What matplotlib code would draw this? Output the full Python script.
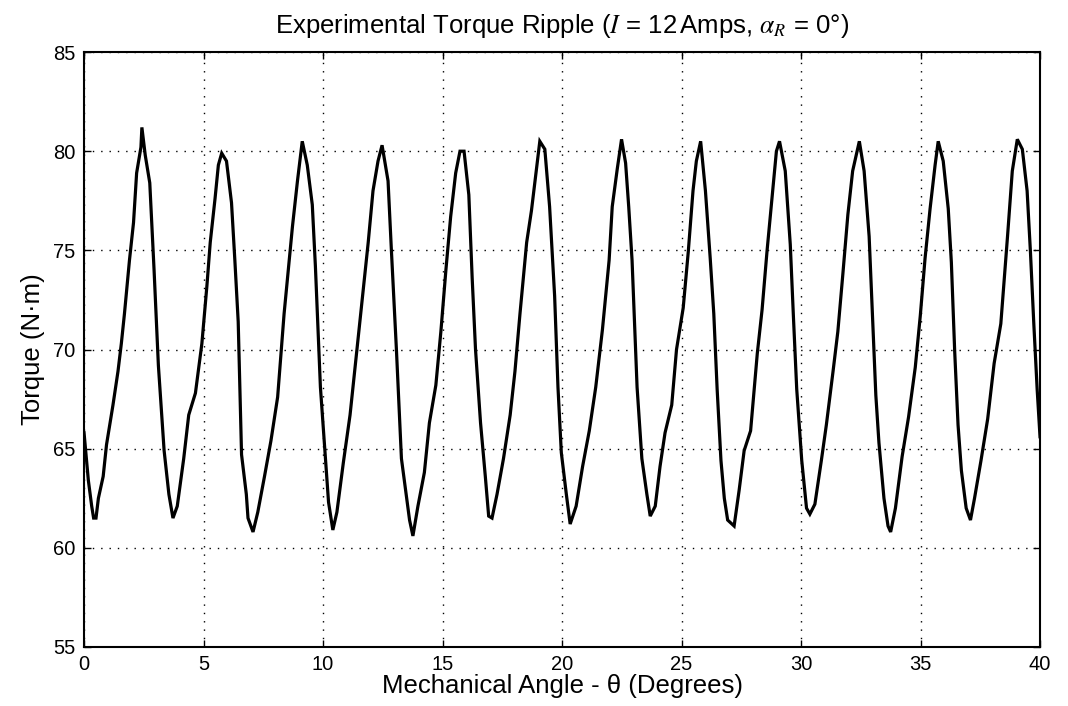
import matplotlib
matplotlib.use("Agg")
import matplotlib.pyplot as plt

# --- values (angle in degrees, torque in N·m) ---
angle = [
    0.00, 0.18, 0.32, 0.40, 0.50, 0.60, 0.80, 0.94, 1.21, 1.42, 1.56, 1.69, 1.90, 2.07, 2.20, 2.38, 2.42,
    2.56, 2.75, 2.93, 3.11, 3.35, 3.55, 3.72, 3.90, 4.17, 4.38, 4.66, 4.93, 5.14, 5.28, 5.48, 5.62,
    5.76, 5.96, 6.17, 6.31, 6.45, 6.59, 6.79, 6.86, 7.07, 7.27, 7.55, 7.82, 8.10, 8.37, 8.72, 8.93,
    9.13, 9.34, 9.55, 9.68, 9.89, 10.10, 10.23, 10.41, 10.58, 10.85, 11.13, 11.54, 11.89, 12.09, 12.30,
    12.47, 12.72, 12.86, 13.07, 13.28, 13.48, 13.62, 13.76, 13.97, 14.24, 14.45, 14.72, 14.93, 15.14,
    15.34, 15.55, 15.73, 15.90, 16.10, 16.24, 16.38, 16.59, 16.79, 16.93, 17.07, 17.28, 17.55, 17.83,
    18.03, 18.24, 18.52, 18.72, 18.93, 19.07, 19.28, 19.48, 19.69, 19.83, 19.97, 20.18, 20.34, 20.59,
    20.86, 21.14, 21.41, 21.69, 21.97, 22.10, 22.31, 22.49, 22.66, 22.79, 22.93, 23.14, 23.34, 23.55,
    23.69, 23.90, 24.10, 24.31, 24.59, 24.79, 25.07, 25.28, 25.48, 25.62, 25.80, 26.00, 26.20, 26.35,
    26.49, 26.65, 26.79, 26.93, 27.20, 27.41, 27.62, 27.89, 28.17, 28.37, 28.58, 28.79, 28.97, 29.10,
    29.34, 29.55, 29.68, 29.82, 30.03, 30.23, 30.37, 30.58, 30.85, 31.06, 31.34, 31.54, 31.75, 31.96,
    32.16, 32.44, 32.64, 32.85, 32.99, 33.13, 33.26, 33.47, 33.64, 33.75, 33.95, 34.23, 34.50, 34.78,
    34.99, 35.19, 35.40, 35.61, 35.74, 35.95, 36.16, 36.29, 36.43, 36.57, 36.71, 36.91, 37.09, 37.26,
    37.53, 37.81, 38.08, 38.36, 38.64, 38.84, 39.05, 39.26, 39.46, 39.60, 39.74, 39.88, 40.00,
]
torque = [
    65.8, 63.4, 62.1, 61.5, 61.5, 62.5, 63.6, 65.2, 67.2, 68.9, 70.3, 71.8, 74.5, 76.4, 78.9, 80.2, 81.2,
    79.8, 78.4, 74.0, 69.2, 64.9, 62.7, 61.5, 62.1, 64.5, 66.7, 67.8, 70.3, 73.2, 75.4, 77.6, 79.3,
    79.9, 79.5, 77.4, 74.5, 71.4, 64.7, 62.7, 61.5, 60.8, 61.8, 63.6, 65.4, 67.6, 71.8, 76.2, 78.5,
    80.5, 79.3, 77.3, 74.2, 68.1, 64.5, 62.3, 60.9, 61.8, 64.3, 66.7, 71.4, 75.4, 78.0, 79.5,
    80.3, 78.5, 75.0, 70.0, 64.5, 62.7, 61.4, 60.6, 62.1, 63.8, 66.3, 68.2, 70.9, 74.0,
    76.7, 78.9, 80.0, 80.0, 77.8, 73.6, 70.0, 66.3, 63.6, 61.6, 61.5, 62.7, 64.5, 66.7,
    68.9, 71.8, 75.4, 77.0, 79.1, 80.5, 80.1, 77.2, 72.7, 68.1, 64.8, 62.7, 61.2, 62.1,
    64.1, 65.9, 68.1, 71.0, 74.5, 77.2, 79.1, 80.6, 79.4, 77.2, 74.5, 68.1, 64.5, 62.7,
    61.6, 62.1, 64.1, 65.8, 67.2, 70.0, 72.1, 74.9, 78.0, 79.5, 80.5, 78.0, 74.6, 71.8,
    68.0, 64.4, 62.5, 61.4, 61.1, 62.9, 64.9, 65.9, 69.8, 72.0, 75.0, 77.7, 80.0, 80.5,
    79.0, 75.3, 71.7, 68.0, 64.4, 62.0, 61.7, 62.2, 64.4, 66.2, 68.9, 70.9, 73.8, 76.8,
    79.0, 80.5, 79.0, 75.7, 71.7, 67.7, 65.3, 62.5, 61.1, 60.8, 62.0, 64.6, 66.6, 69.1,
    71.7, 74.6, 77.1, 79.3, 80.5, 79.5, 77.1, 74.4, 69.9, 66.2, 63.9, 62.0, 61.4, 62.5,
    64.4, 66.5, 69.3, 71.3, 75.7, 79.0, 80.6, 80.1, 78.0, 74.9, 71.3, 68.0, 65.6,
]
x_ticks = [0, 5, 10, 15, 20, 25, 30, 35, 40]
y_ticks = [55, 60, 65, 70, 75, 80, 85]

plt.rcParams['font.family'] = ['Liberation Sans', 'DejaVu Sans']
plt.rcParams['mathtext.fontset'] = 'stix'

fig = plt.figure(figsize=(10.68, 7.06), dpi=100)
ax = fig.add_axes([0.0787, 0.0836, 0.8951, 0.8427])

ax.plot(angle, torque, color='black', linewidth=2.3, solid_joinstyle='miter')

ax.set_xlim(0, 40)
ax.set_ylim(55, 85)
ax.set_xticks(x_ticks)
ax.set_yticks(y_ticks)
ax.tick_params(direction='in', top=True, right=True, length=5, width=1,
               labelsize=14.5, pad=6, colors='black')
ax.grid(True, linestyle=(0, (1, 5)), color='black', linewidth=1.0)
for sp in ax.spines.values():
    sp.set_linewidth(1.5)

ax.set_title(r'Experimental Torque Ripple ($I$ = 12$\,$Amps, $\alpha_R$ = 0°)',
             fontsize=18.5, pad=14)
ax.set_xlabel('Mechanical Angle - θ (Degrees)', fontsize=18.5, labelpad=0)
ax.set_ylabel('Torque (N·m)', fontsize=18.5, labelpad=6)

fig.savefig('out.png', dpi=100)
